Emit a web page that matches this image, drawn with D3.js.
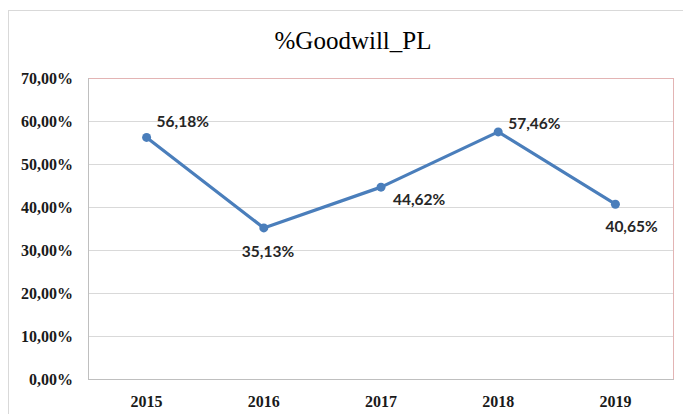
<!DOCTYPE html>
<html lang="en">
<head>
    <meta charset="utf-8">
    <title>%Goodwill_PL</title>
    <style>
        body {
            margin: 0;
            background: #fff;
        }
        svg {
            display: block;
        }
        .title {
            font: 25px "Liberation Serif", serif;
            fill: #000;
        }
        .axis text {
            font: bold 16px "Liberation Serif", serif;
            fill: #1a1a1a;
        }
        .label {
            font: bold 15.5px Lato, sans-serif;
            fill: #262626;
        }
    </style>
</head>
<body>
<svg width="683" height="414"></svg>

<script src="https://d3js.org/d3.v7.min.js"></script>
<script>

    const years = ["2015", "2016", "2017", "2018", "2019"];
    const values = [56.18, 35.13, 44.62, 57.46, 40.65];
    const yTicks = [0, 10, 20, 30, 40, 50, 60, 70];
    // label offset from its point (text-anchor start): [dx, dy]
    const labelPos = [[10, -10], [-22, 29], [12, 18], [10, -3], [-10, 28]];

    const margin = {top: 78, right: 9, bottom: 35, left: 88};

    const svg = d3.select("svg");
    const width = +svg.attr("width") - margin.left - margin.right;
    const height = +svg.attr("height") - margin.top - margin.bottom;

    const fmt = v => d3.format(".2f")(v).replace(".", ",") + "%";

    // outer chart frame
    svg.append("rect")
        .attr("x", 8.5).attr("y", 10.5)
        .attr("width", 700).attr("height", 420)
        .attr("fill", "none")
        .attr("stroke", "#d9d9d9");

    svg.append("text")
        .attr("class", "title")
        .attr("x", 353)
        .attr("y", 49)
        .attr("text-anchor", "middle")
        .text("%Goodwill_PL");

    const vis = svg.append("g")
        .attr("transform", `translate(${margin.left},${margin.top})`);

    const x = d3.scaleBand().domain(years).range([0, width]);
    const y = d3.scaleLinear().domain([0, 70]).range([height, 0]);

    // gridlines
    vis.selectAll(".grid")
        .data(yTicks.slice(1, -1))
        .enter().append("line")
        .attr("x1", 0).attr("x2", width)
        .attr("y1", d => y(d) + 0.5).attr("y2", d => y(d) + 0.5)
        .attr("stroke", "#d9d9d9");

    // plot border: pinkish top/right, grey left/bottom
    vis.append("line").attr("x1", 0).attr("x2", width).attr("y1", 0.5).attr("y2", 0.5)
        .attr("stroke", "#e3b4b4");
    vis.append("line").attr("x1", width - 0.5).attr("x2", width - 0.5).attr("y1", 0).attr("y2", height)
        .attr("stroke", "#e3b4b4");
    vis.append("line").attr("x1", 0.5).attr("x2", 0.5).attr("y1", 0).attr("y2", height)
        .attr("stroke", "#bfbfbf");
    vis.append("line").attr("x1", 0).attr("x2", width).attr("y1", height + 0.5).attr("y2", height + 0.5)
        .attr("stroke", "#bfbfbf");

    // y axis
    vis.append("g")
        .attr("class", "axis")
        .attr("transform", "translate(-12,0)")
        .call(d3.axisLeft(y).tickValues(yTicks).tickSize(0).tickFormat(fmt))
        .call(g => g.select(".domain").remove());

    // x axis
    vis.append("g")
        .attr("class", "axis")
        .attr("transform", `translate(0,${height + 14})`)
        .call(d3.axisBottom(x).tickSize(0))
        .call(g => g.select(".domain").remove());

    const cx = (d, i) => x(years[i]) + x.bandwidth() / 2;

    const line = d3.line()
        .x((d, i) => cx(d, i))
        .y(d => y(d));

    vis.append("path")
        .datum(values)
        .attr("d", line)
        .attr("fill", "none")
        .attr("stroke", "#4a7ebb")
        .attr("stroke-width", 3.2)
        .attr("stroke-linejoin", "round");

    vis.selectAll(".dot")
        .data(values)
        .enter().append("circle")
        .attr("cx", cx)
        .attr("cy", d => y(d))
        .attr("r", 4.5)
        .attr("fill", "#4a7ebb");

    vis.selectAll(".label")
        .data(values)
        .enter().append("text")
        .attr("class", "label")
        .attr("x", (d, i) => cx(d, i) + labelPos[i][0])
        .attr("y", (d, i) => y(d) + labelPos[i][1])
        .text(fmt);

</script>
</body>
</html>
